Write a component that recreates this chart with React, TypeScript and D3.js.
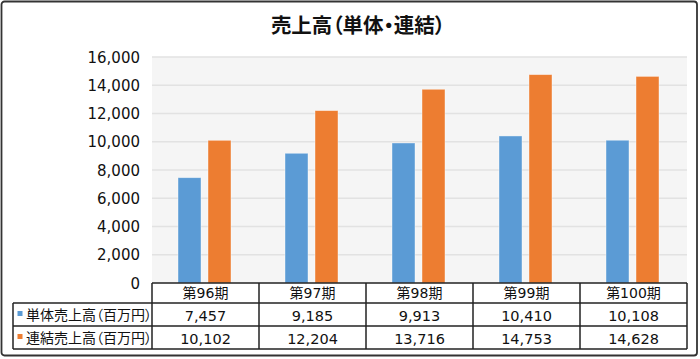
import React from "react";
import * as d3 from "d3";

const categories = ["第96期", "第97期", "第98期", "第99期", "第100期"];
const seriesNames = ["単体売上高（百万円）", "連結売上高（百万円）"];
const tankaValues = [7457, 9185, 9913, 10410, 10108];
const renketsuValues = [10102, 12204, 13716, 14753, 14628];
const yTicks = [0, 2000, 4000, 6000, 8000, 10000, 12000, 14000, 16000];
const colors = ["#5B9BD5", "#ED7D31"];
const title = "売上高（単体・連結）";

export default function App() {
  const W = 700, H = 359;
  const plotL = 152, plotR = 687, plotT = 57, plotB = 283;
  const rowH = [20, 23, 23];
  const tableL = 13;
  const font = "'DejaVu Sans', 'Noto Sans CJK JP', sans-serif";
  const cjk = "'Noto Sans CJK JP', sans-serif";
  const fmt = d3.format(",");

  const x = d3.scaleBand<string>().domain(categories).range([plotL, plotR]).padding(0);
  const y = d3.scaleLinear().domain([0, 16000]).range([plotB, plotT]);
  const xs = d3.scaleBand<number>().domain([0, 1]).range([26, 79]).paddingInner(7 / 30).paddingOuter(0);

  const series = [tankaValues, renketsuValues];
  const r1 = plotB + rowH[0];
  const r2 = r1 + rowH[1];
  const r3 = r2 + rowH[2];
  const tableStroke = "#222";

  return (
    <svg width={W} height={H} style={{ position: "absolute", left: 0, top: 0, fontFamily: font }}>
      <rect x={0} y={0} width={W} height={H} fill="#fff" />
      <rect x={1.5} y={1.5} width={W - 4.5} height={H - 5} rx={3} fill="#fff" stroke="#333" strokeWidth={1.8} />
      <text x={358} y={33} textAnchor="middle" fontSize={20.5} fontWeight={700} fill="#111" fontFamily={cjk} style={{ fontFeatureSettings: '"palt"' }}>
        {title}
      </text>
      <rect x={plotL} y={plotT} width={plotR - plotL} height={plotB - plotT} fill="#f5f5f5" />
      {yTicks.map((t) => (
        <g key={t}>
          {t > 0 && <line x1={plotL} x2={plotR} y1={y(t)} y2={y(t)} stroke="#e2e2e2" strokeWidth={1.5} />}
          <text x={140} y={y(t) + 5.5} textAnchor="end" fontSize={15} fill="#111">
            {fmt(t)}
          </text>
        </g>
      ))}
      {categories.map((c, i) => (
        <g key={c}>
          {series.map((vals, si) => (
            <rect
              key={si}
              x={(x(c) as number) + (xs(si) as number)}
              y={y(vals[i])}
              width={xs.bandwidth()}
              height={y(0) - y(vals[i])}
              fill={colors[si]}
              stroke="#fff"
              strokeOpacity={0.5}
              strokeWidth={0.8}
            />
          ))}
        </g>
      ))}
      {/* table */}
      <g stroke={tableStroke} strokeWidth={1.5} fill="none">
        <line x1={plotL} x2={plotR} y1={plotB} y2={plotB} />
        <line x1={tableL} x2={plotR} y1={r1} y2={r1} />
        <line x1={tableL} x2={plotR} y1={r2} y2={r2} />
        <line x1={tableL} x2={plotR} y1={r3} y2={r3} />
        <line x1={tableL} x2={tableL} y1={r1} y2={r3} />
        {categories.map((c) => (
          <line key={c} x1={x(c)} x2={x(c)} y1={plotB} y2={r3} />
        ))}
        <line x1={plotR} x2={plotR} y1={plotB} y2={r3} />
      </g>
      {categories.map((c) => (
        <text key={c} x={(x(c) as number) + x.bandwidth() / 2} y={plotB + 15} textAnchor="middle" fontSize={14} fill="#111">
          {c}
        </text>
      ))}
      {series.map((vals, si) => {
        const top = si === 0 ? r1 : r2;
        return (
          <g key={si}>
            <rect x={17.5} y={top + 8} width={5} height={5} fill={colors[si]} />
            <text x={26} y={top + 17} fontSize={14} fill="#111" fontFamily={cjk} style={{ fontFeatureSettings: '"palt"' }}>
              {seriesNames[si]}
            </text>
            {vals.map((v, i) => (
              <text key={i} x={(x(categories[i]) as number) + x.bandwidth() / 2} y={top + 17.5} textAnchor="middle" fontSize={14.5} fill="#111">
                {fmt(v)}
              </text>
            ))}
          </g>
        );
      })}
    </svg>
  );
}
